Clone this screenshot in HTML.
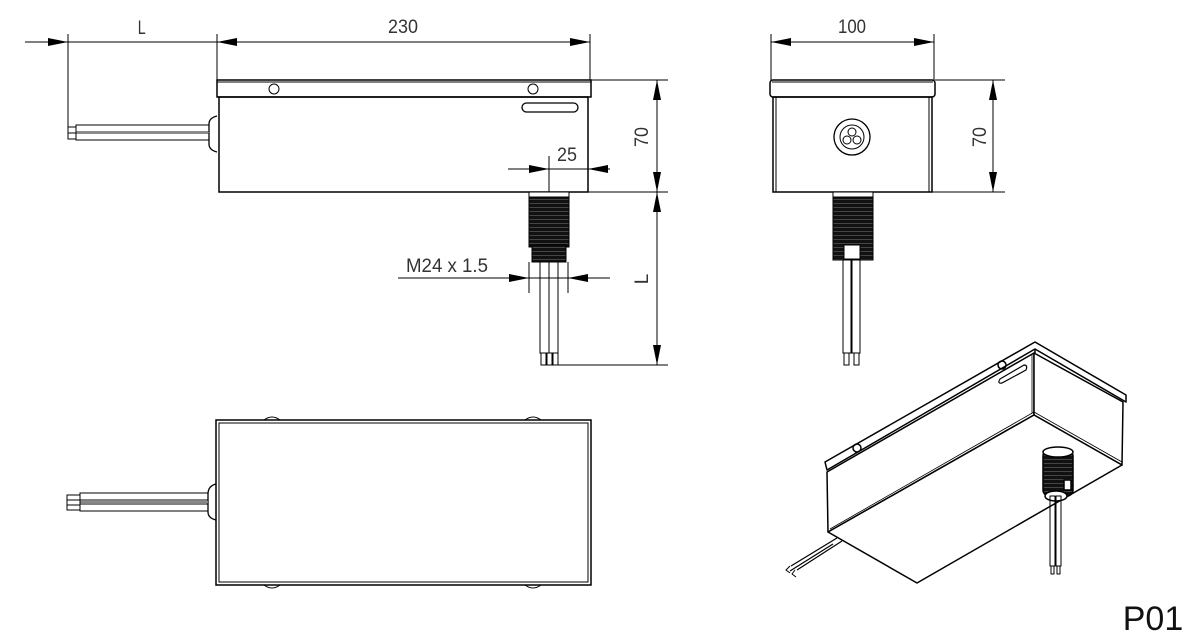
<!DOCTYPE html>
<html><head><meta charset="utf-8"><style>
html,body{margin:0;padding:0;background:#fff;width:1190px;height:635px;overflow:hidden}
svg text{font-family:"Liberation Sans",sans-serif;fill:#333}
</style></head><body>
<svg width="1190" height="635" viewBox="0 0 1190 635" xmlns="http://www.w3.org/2000/svg">
<defs>
<marker id="a" viewBox="0 0 20 8" refX="20" refY="4" markerWidth="20" markerHeight="8" markerUnits="userSpaceOnUse" orient="auto-start-reverse"><path d="M0,0 L20,4 L0,8 z" fill="#000"/></marker>
<pattern id="th" width="6" height="4" patternUnits="userSpaceOnUse"><rect width="6" height="4" fill="#111"/><line x1="0" y1="3.5" x2="6" y2="3.5" stroke="#666" stroke-width="0.6"/></pattern>
</defs>
<g stroke="#000" fill="none" stroke-width="1">
<!-- FRONT VIEW -->
<line x1="25" y1="42" x2="68" y2="42" marker-end="url(#a)"/>
<line x1="68" y1="42" x2="260" y2="42"/>
<line x1="260" y1="42" x2="217" y2="42" marker-end="url(#a)"/>
<line x1="250" y1="42" x2="590" y2="42" marker-end="url(#a)"/>
<line x1="68" y1="34" x2="68" y2="136"/>
<line x1="217" y1="34" x2="217" y2="80"/>
<line x1="590" y1="34" x2="590" y2="80"/>
<rect x="217" y="80" width="374" height="17" stroke-width="1.5"/>
<line x1="217" y1="82" x2="591" y2="82"/>
<circle cx="274" cy="89" r="5"/>
<circle cx="533" cy="89" r="5"/>
<rect x="219" y="97" width="369" height="95" stroke-width="1.5"/>
<rect x="522" y="103" width="56" height="9" rx="4.5" stroke-width="1.3"/>
<path d="M217,116 Q209,118 209,124 L209,144 Q209,150 217,152" stroke-width="1.3"/>
<rect x="76" y="125" width="133" height="7"/>
<rect x="76" y="133" width="133" height="7"/>
<line x1="76" y1="132.5" x2="209" y2="132.5" stroke="#888" stroke-width="1.2"/>
<rect x="68" y="127" width="8" height="6"/>
<rect x="68" y="133" width="8" height="6"/>
<!-- 70 / L dims -->
<line x1="591" y1="80" x2="668" y2="80"/>
<line x1="588" y1="192" x2="668" y2="192"/>
<line x1="548" y1="365" x2="668" y2="365"/>
<line x1="657" y1="120" x2="657" y2="80" marker-end="url(#a)"/>
<line x1="657" y1="120" x2="657" y2="192" marker-end="url(#a)"/>
<line x1="657" y1="260" x2="657" y2="192" marker-end="url(#a)"/>
<line x1="657" y1="260" x2="657" y2="365" marker-end="url(#a)"/>
<!-- 25 dim -->
<line x1="508" y1="169" x2="549" y2="169" marker-end="url(#a)"/>
<line x1="549" y1="169" x2="588" y2="169"/>
<line x1="610" y1="169" x2="588" y2="169" marker-end="url(#a)"/>
<line x1="549" y1="156" x2="549" y2="196"/>
<!-- gland front -->
<rect x="529" y="192" width="40" height="5" fill="#fff"/>
<rect x="529" y="197" width="40" height="50" fill="url(#th)" stroke="#000"/>
<rect x="532" y="245" width="34" height="17" fill="url(#th)"/>
<rect x="540" y="262" width="9" height="91"/>
<rect x="549" y="262" width="9" height="91"/>
<rect x="541" y="353" width="5" height="12"/>
<rect x="547" y="353" width="5" height="12"/>
<rect x="553" y="353" width="5" height="12"/>
<!-- M24 dim -->
<line x1="529" y1="262" x2="529" y2="293"/>
<line x1="568" y1="262" x2="568" y2="293"/>
<line x1="398" y1="278" x2="529" y2="278" marker-end="url(#a)"/>
<line x1="529" y1="278" x2="568" y2="278"/>
<line x1="610" y1="278" x2="568" y2="278" marker-end="url(#a)"/>

<!-- SIDE VIEW -->
<line x1="771" y1="34" x2="771" y2="80"/>
<line x1="934" y1="34" x2="934" y2="80"/>
<line x1="810" y1="42" x2="771" y2="42" marker-end="url(#a)"/>
<line x1="800" y1="42" x2="934" y2="42" marker-end="url(#a)"/>
<rect x="770" y="80" width="165" height="17" rx="3" stroke-width="1.5"/>
<line x1="772" y1="82" x2="933" y2="82"/>
<rect x="773" y="97" width="159" height="95" stroke-width="1.5"/>
<line x1="776" y1="97" x2="776" y2="192"/>
<line x1="929" y1="97" x2="929" y2="192"/>
<circle cx="852" cy="137" r="18" stroke-width="1.3"/>
<circle cx="852" cy="137" r="12"/>
<circle cx="852" cy="132" r="4"/>
<circle cx="847" cy="140" r="4"/>
<circle cx="857" cy="140" r="4"/>
<line x1="935" y1="80" x2="1005" y2="80"/>
<line x1="932" y1="192" x2="1005" y2="192"/>
<line x1="993" y1="130" x2="993" y2="80" marker-end="url(#a)"/>
<line x1="993" y1="130" x2="993" y2="192" marker-end="url(#a)"/>
<rect x="833" y="192" width="40" height="5" fill="#fff"/>
<rect x="833" y="197" width="40" height="63" fill="url(#th)"/>
<rect x="844" y="245" width="16" height="14" fill="#fff"/>
<rect x="843" y="260" width="8" height="93"/>
<rect x="852" y="260" width="8" height="93"/>
<rect x="844" y="353" width="5" height="12"/>
<rect x="854" y="353" width="5" height="12"/>

<!-- BOTTOM VIEW -->
<path d="M264,420 Q272,414 280,420 M525,420 Q533,414 541,420 M264,585 Q272,591 280,585 M525,585 Q533,591 541,585"/>
<rect x="216" y="420" width="375" height="165" stroke-width="1.5"/>
<rect x="219" y="423" width="369" height="159"/>
<path d="M216,484 Q208,486 208,494 L208,512 Q208,518 216,520" stroke-width="1.3"/>
<rect x="80" y="493" width="128" height="7"/>
<rect x="80" y="504" width="128" height="7"/>
<line x1="80" y1="502" x2="208" y2="502" stroke="#888" stroke-width="2"/>
<rect x="67" y="495" width="13" height="5"/>
<rect x="67" y="500" width="13" height="5"/>
<rect x="67" y="505" width="13" height="5"/>

<!-- ISOMETRIC -->
<g stroke-width="1.5" stroke-linejoin="round">
<polygon points="825,462 1035,342 1126,395 1126,402 1035,349 827,470" fill="#fff"/>
<line x1="1035" y1="349" x2="1035" y2="353"/>
<polygon points="827,472 1034,353 1034,415 828,532" fill="#fff"/>
<polygon points="1034,353 1123,402 1122,465 1034,415" fill="#fff"/>
<polygon points="828,532 1034,415 1122,465 917,583" fill="#fff"/>
<line x1="830" y1="529" x2="1034" y2="412" stroke-width="0.8"/>
<line x1="1034" y1="412" x2="1122" y2="462" stroke-width="0.8"/>
<line x1="1032" y1="355" x2="1032" y2="413" stroke-width="0.8"/>
<circle cx="857" cy="448" r="4"/>
<circle cx="1002" cy="365" r="4"/>
<path d="M1000,379 L1024,365 Q1028,365 1026,370 L1002,383 Q997,384 1000,379 z" stroke-width="1.2"/>
<path d="M837,538 L791,566 M842,541 L797,570 M833,544 L790,571" stroke-width="1.2"/>
<path d="M790,566 l-4,4 l4,3 M795,570 l-3,4 l4,3" stroke-width="1"/>
<rect x="1043" y="450" width="30" height="46" rx="6" fill="url(#th)"/>
<ellipse cx="1058" cy="452" rx="15" ry="5" fill="#fff"/>
<rect x="1064" y="480" width="7" height="10" fill="#fff"/>
<ellipse cx="1056" cy="496" rx="11" ry="5" fill="#fff"/>
<rect x="1050" y="496" width="5" height="70" stroke-width="1"/>
<rect x="1056" y="496" width="5" height="70" stroke-width="1"/>
<rect x="1051" y="566" width="3" height="8" stroke-width="1"/>
<rect x="1057" y="566" width="3" height="8" stroke-width="1"/>
</g>
</g>
<text x="142" y="34" font-size="19" text-anchor="middle" transform="scale(0.75,1) translate(47,0)" >L</text>
<text x="403" y="33" font-size="19" text-anchor="middle" textLength="30" lengthAdjust="spacingAndGlyphs">230</text>
<text x="567" y="161" font-size="19" text-anchor="middle" textLength="20" lengthAdjust="spacingAndGlyphs">25</text>
<text x="447" y="272" font-size="19" text-anchor="middle" textLength="82" lengthAdjust="spacingAndGlyphs">M24 x 1.5</text>
<text x="852" y="33" font-size="19" text-anchor="middle" textLength="28" lengthAdjust="spacingAndGlyphs">100</text>
<text transform="translate(648,137) rotate(-90)" font-size="19" text-anchor="middle" textLength="20" lengthAdjust="spacingAndGlyphs">70</text>
<text transform="translate(648,279) rotate(-90)" font-size="19" text-anchor="middle">L</text>
<text transform="translate(986,137) rotate(-90)" font-size="19" text-anchor="middle" textLength="20" lengthAdjust="spacingAndGlyphs">70</text>
<text x="1153" y="630" font-size="34" text-anchor="middle" fill="#111" style="fill:#111">P01</text>
</svg>
</body></html>
